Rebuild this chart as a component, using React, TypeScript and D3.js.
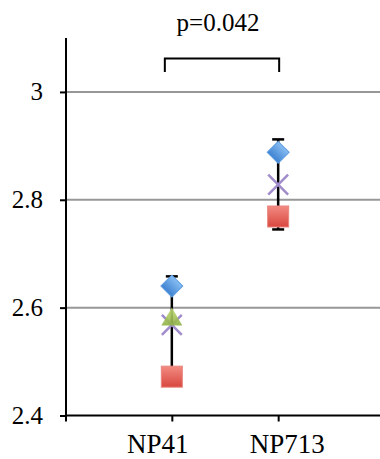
import React, { useEffect, useRef } from "react";
import * as d3 from "d3";

const categories = ["NP41", "NP713"];
const diamondValues = [2.64, 2.888];
const triangleValues = [2.578, null];
const crossValues = [2.568, 2.828];
const squareValues = [2.472, 2.769];
const errHigh = [2.658, 2.912];
const errLow = [2.478, 2.745];
const yTicks = [2.4, 2.6, 2.8, 3];
const pLabel = "p=0.042";

export default function App() {
  const ref = useRef<SVGSVGElement>(null);

  useEffect(() => {
    const svg = d3.select(ref.current);
    svg.selectAll("*").remove();

    const width = 380;
    const height = 459;
    svg.attr("width", width).attr("height", height);

    const defs = svg.append("defs");
    const grad = (id: string, a: string, b: string) => {
      const g = defs.append("linearGradient").attr("id", id)
        .attr("x1", 0).attr("y1", 0).attr("x2", 0).attr("y2", 1);
      g.append("stop").attr("offset", "0%").attr("stop-color", a);
      g.append("stop").attr("offset", "100%").attr("stop-color", b);
    };
    grad("gBlue", "#86bdf2", "#3f82d2");
    grad("gRed", "#f28b82", "#d8473f");
    grad("gGreen", "#c3dc7a", "#8eb043");

    // slot 0 is the empty origin tick, slot 3 falls just off the right edge
    const slots = ["_start", ...categories, "_end"];
    const x = d3.scalePoint().domain(slots).range([65.5, 384.5]);
    const y = d3.scaleLinear().domain([2.4, 3.1]).range([415.5, 38]);

    const font = "'Times New Roman', Times, 'Liberation Serif', 'Nimbus Roman', FreeSerif, 'Noto Serif', 'DejaVu Serif', serif";

    // grid
    svg.append("g")
      .selectAll("line")
      .data(yTicks.filter(d => d > 2.4))
      .join("line")
      .attr("x1", 66).attr("x2", width)
      .attr("y1", d => y(d)).attr("y2", d => y(d))
      .attr("stroke", "#979797").attr("stroke-width", 2);

    // y axis
    const yAxis = svg.append("g").attr("transform", "translate(66,0)")
      .call(d3.axisLeft(y).tickValues(yTicks).tickSize(6).tickPadding(17).tickFormat(d3.format("")));
    yAxis.attr("font-family", font).attr("font-size", 25);
    yAxis.select(".domain").attr("d", `M0,${y(3.1)}V${y(2.4)}`).attr("stroke", "#000").attr("stroke-width", 2);
    yAxis.selectAll(".tick line").attr("stroke", "#000").attr("stroke-width", 2);
    yAxis.selectAll(".tick text").style("font-family", font).style("font-size", "25px").attr("fill", "#000");

    // x axis
    const xAxis = svg.append("g").attr("transform", `translate(0,${y(2.4)})`)
      .call(d3.axisBottom(x).tickValues(slots.slice(0, 3)).tickSize(6).tickFormat(() => ""));
    xAxis.select(".domain").attr("d", `M65,0H${width}`).attr("stroke", "#000").attr("stroke-width", 2);
    xAxis.selectAll(".tick line").attr("stroke", "#000").attr("stroke-width", 2);

    const labelShift = [-14, 9];
    svg.append("g")
      .selectAll("text")
      .data(categories)
      .join("text")
      .attr("x", (d, i) => (x(d) as number) + labelShift[i])
      .attr("y", 453)
      .attr("text-anchor", "middle")
      .style("font-family", font).style("font-size", "27px")
      .text(d => d);

    // error bars
    const eb = svg.append("g");
    categories.forEach((c, i) => {
      const cx = x(c) as number;
      eb.append("line").attr("x1", cx).attr("x2", cx)
        .attr("y1", y(errHigh[i])).attr("y2", y(errLow[i]))
        .attr("stroke", "#000").attr("stroke-width", 2.5);
      [errHigh[i], errLow[i]].forEach(v => {
        eb.append("line").attr("x1", cx - 6).attr("x2", cx + 6)
          .attr("y1", y(v)).attr("y2", y(v))
          .attr("stroke", "#000").attr("stroke-width", 2.5);
      });
    });

    const marks = svg.append("g");
    // squares
    marks.selectAll("rect.sq")
      .data(squareValues)
      .join("rect")
      .attr("class", "sq")
      .attr("x", (d, i) => (x(categories[i]) as number) - 10.5)
      .attr("y", d => y(d) - 10.5)
      .attr("width", 21).attr("height", 21)
      .attr("fill", "url(#gRed)").attr("stroke", "#e8857e").attr("stroke-width", 1);

    // crosses
    const crossPath = d3.symbol().type(d3.symbolX).size(260);
    marks.selectAll("path.cr")
      .data(crossValues)
      .join("path")
      .attr("class", "cr")
      .attr("transform", (d, i) => `translate(${x(categories[i])},${y(d)})`)
      .attr("d", crossPath())
      .attr("fill", "none").attr("stroke", "#a08bcb").attr("stroke-width", 2.5);

    // triangles
    const triPath = d3.symbol().type(d3.symbolTriangle).size(190);
    marks.selectAll("path.tr")
      .data(triangleValues.map((v, i) => ({ v, c: categories[i] })).filter(d => d.v != null))
      .join("path")
      .attr("class", "tr")
      .attr("transform", d => `translate(${x(d.c)},${y(d.v as number)})`)
      .attr("d", triPath())
      .attr("fill", "url(#gGreen)").attr("opacity", 0.9);

    // diamonds
    const diaPath = d3.symbol().type(d3.symbolSquare).size(240);
    marks.selectAll("path.dm")
      .data(diamondValues)
      .join("path")
      .attr("class", "dm")
      .attr("transform", (d, i) => `translate(${x(categories[i])},${y(d)}) rotate(45)`)
      .attr("d", diaPath())
      .attr("fill", "url(#gBlue)").attr("stroke", "#5f9de0").attr("stroke-width", 1);

    // significance bracket
    const bx1 = (x(categories[0]) as number) - 7;
    const bx2 = (x(categories[1]) as number) + 1;
    svg.append("path")
      .attr("d", `M${bx1},72V58.5H${bx2}V72`)
      .attr("fill", "none").attr("stroke", "#000").attr("stroke-width", 2);
    svg.append("text")
      .attr("x", (bx1 + bx2) / 2 - 4).attr("y", 31)
      .attr("text-anchor", "middle")
      .style("font-family", font).style("font-size", "25px")
      .text(pLabel);
  }, []);

  return <svg ref={ref} style={{ position: "absolute", left: 0, top: 0 }}></svg>;
}
